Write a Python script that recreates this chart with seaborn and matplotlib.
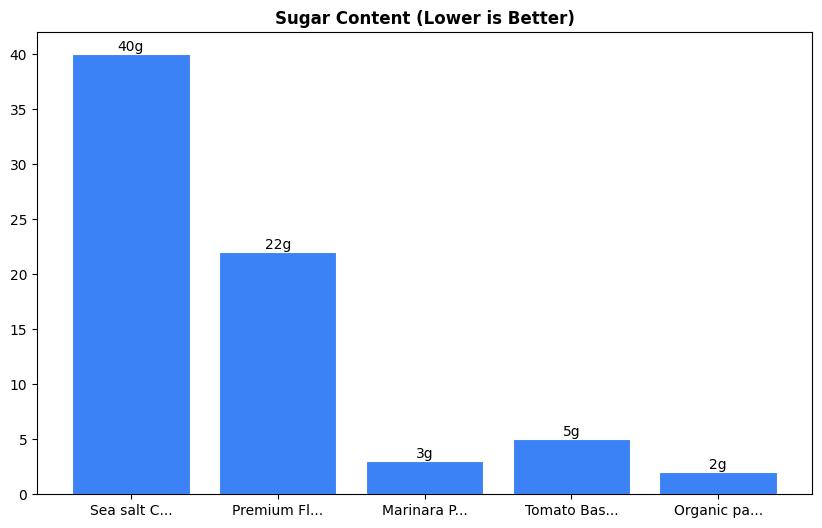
import matplotlib
matplotlib.use("Agg")
import matplotlib.pyplot as plt
import seaborn as sns
import pandas as pd

# Product names (already truncated like the original) and sugar per item
products = ["Sea salt C...", "Premium Fl...", "Marinara P...", "Tomato Bas...", "Organic pa..."]
sugar = [40, 22, 3, 5, 2]

data = pd.DataFrame({"Product": products, "Sugar": sugar})

fig, ax = plt.subplots(figsize=(8.22, 5.28), dpi=100)
fig.subplots_adjust(left=0.045, right=0.988, top=0.939, bottom=0.064)

sns.barplot(x="Product", y="Sugar", data=data, color="#3b82f6", saturation=1,
            width=0.8, edgecolor="white", linewidth=0.8, ax=ax)

# go back to plain matplotlib margins on the category axis
ax.autoscale(enable=True, axis="x")
ax.margins(x=0.05)

ax.bar_label(ax.containers[0], labels=[f"{v}g" for v in sugar], fontsize=10)

ax.set_title("Sugar Content (Lower is Better)", fontsize=12, fontweight="bold")
ax.set_xlabel("")
ax.set_ylabel("")

fig.savefig("out.png", dpi=100)
